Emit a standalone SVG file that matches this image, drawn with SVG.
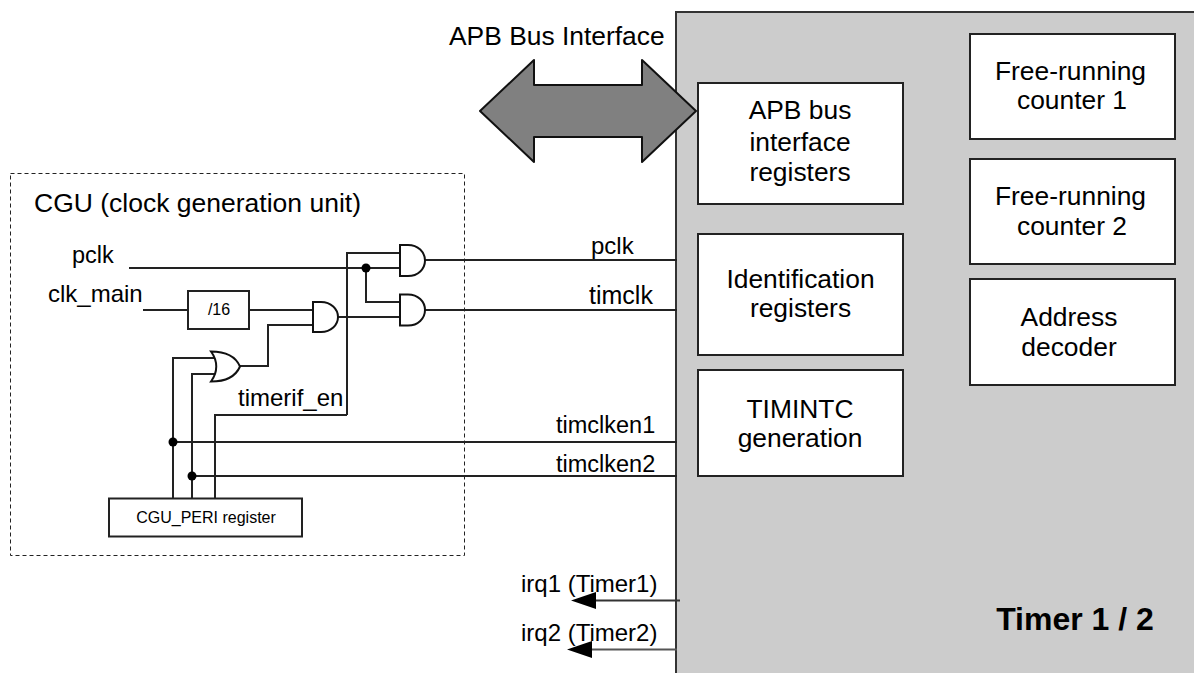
<svg xmlns="http://www.w3.org/2000/svg" width="1194" height="673" viewBox="0 0 1194 673">
<style>
text{font-family:"Liberation Sans",Arial,sans-serif;fill:#000}
.b{font-size:26.400px;text-anchor:middle}
.l{font-size:24px}
.w{fill:none;stroke:#222;stroke-width:2}
.box{fill:#fff;stroke:#222;stroke-width:2}
.g{fill:#fff;stroke:#111;stroke-width:2}
.d{fill:#000}
</style>
<rect width="1194" height="673" fill="#fff"/>
<g id="timer-panel"><rect x="676" y="12" width="530" height="670" fill="#cccccc" stroke="#333" stroke-width="2"/>
<text x="1075" y="630" font-size="32" font-weight="bold" text-anchor="middle">Timer 1 / 2</text></g>
<g id="cgu"><rect x="10.500" y="173.500" width="454" height="382" fill="none" stroke="#222" stroke-width="1" stroke-dasharray="4 3"/>
<text x="34" y="212" font-size="26.500">CGU (clock generation unit)</text></g>
<g id="connectors">
<path class="w" d="M129 268H400M347 415V253H400M366 268V302H400M338 317H400M425 260H677M425 310H677"/>
<path class="w" d="M143 310H188M249 310H313M313 325H268V366H240M214 358H173V498M218 374H192V498M215 498V415H347M173 442H677M192 476H677"/>
<circle class="d" cx="366" cy="268" r="4.500"/><circle class="d" cx="173" cy="442" r="4.500"/><circle class="d" cx="192" cy="476" r="4.500"/>
<path d="M680 600.500H595" fill="none" stroke="#333" stroke-width="2"/><path class="d" d="M571 600.500L596 592V609Z"/>
<path d="M677 649.500H591" fill="none" stroke="#555" stroke-width="2"/><path class="d" d="M567 649.500L592 641V658Z"/>
</g>
<g id="apb-arrow"><path d="M480 111L534 60V85H642V60L696 111L642 162V137H534V162Z" fill="#808080" stroke="#111" stroke-width="2" stroke-linejoin="round"/></g>
<g id="and-1"><path class="g" d="M400 245H408C418 245 425 252 425 260.500C425 269 418 276 408 276H400Z"/></g>
<g id="and-2"><path class="g" d="M400 294.500H408C418 294.500 425 301.500 425 310C425 318.500 418 325.500 408 325.500H400Z"/></g>
<g id="and-3"><path class="g" d="M313 302H321C331 302 338 309 338 317C338 325 331 332 321 332H313Z"/></g>
<g id="or-1"><path class="g" d="M211 351.500C224 351.500 235 355 240 366.500C235 378 224 381.500 211 381.500C218 372 218 361 211 351.500Z"/></g>
<g id="div16"><rect class="box" x="188" y="291" width="61" height="38"/><text x="219" y="315" font-size="16" text-anchor="middle">/16</text></g>
<g id="cgu-peri"><rect class="box" x="109" y="498.500" width="193" height="38"/><text x="206" y="523" font-size="16" text-anchor="middle">CGU_PERI register</text></g>
<g id="apb-regs"><rect class="box" x="698" y="83" width="205" height="121"/><text class="b" x="800" y="119">APB bus</text><text class="b" x="800" y="151">interface</text><text class="b" x="800" y="181">registers</text></g>
<g id="id-regs"><rect class="box" x="698" y="234" width="205" height="121"/><text class="b" x="800.500" y="288">Identification</text><text class="b" x="800.500" y="317">registers</text></g>
<g id="timintc"><rect class="box" x="698" y="370" width="205" height="106"/><text class="b" x="800" y="418">TIMINTC</text><text class="b" x="800" y="447">generation</text></g>
<g id="frc1"><rect class="box" x="970" y="34" width="205" height="105"/><text class="b" x="1070.500" y="80">Free-running</text><text class="b" x="1072" y="109">counter 1</text></g>
<g id="frc2"><rect class="box" x="970" y="159" width="205" height="105"/><text class="b" x="1070.500" y="205">Free-running</text><text class="b" x="1072" y="235">counter 2</text></g>
<g id="addr"><rect class="box" x="970" y="279" width="205" height="106"/><text class="b" x="1069" y="326">Address</text><text class="b" x="1069" y="356">decoder</text></g>
<g id="labels">
<text x="449" y="45" font-size="26.400">APB Bus Interface</text>
<text x="72" y="263" font-size="23.500">pclk</text>
<text class="l" x="48" y="302">clk_main</text>
<text class="l" x="238" y="406">timerif_en</text>
<text class="l" x="591" y="254">pclk</text>
<text x="589" y="304" font-size="25">timclk</text>
<text x="556" y="433" font-size="23.500">timclken1</text>
<text x="556" y="472" font-size="23.500">timclken2</text>
<text class="l" x="521" y="592">irq1 (Timer1)</text>
<text class="l" x="521" y="641">irq2 (Timer2)</text>
</g>
</svg>
